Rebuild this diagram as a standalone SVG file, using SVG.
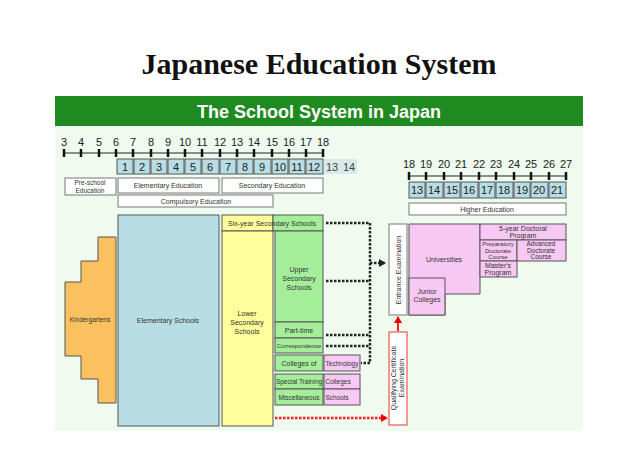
<svg xmlns="http://www.w3.org/2000/svg" width="638" height="452" viewBox="0 0 638 452">
<defs>
<style>
text{font-family:"Liberation Sans",Arial,sans-serif;fill:#333;font-size:7px;text-anchor:middle}
.g{fill:#b8dde4;stroke:#555}
.w{fill:#fff;stroke:#777}
.pk{fill:#f8c8f4;stroke:#555}
.gr{fill:#a4ee9a;stroke:#555}
.num{font-size:11px;fill:#222}
.dot{stroke:#222;stroke-width:2.5;stroke-dasharray:2.5 1.5;fill:none}
</style>
<marker id="ak" markerUnits="userSpaceOnUse" markerWidth="7" markerHeight="8" refX="6" refY="4" orient="auto"><path d="M0,0L7,4L0,8z" fill="#222"/></marker>
<marker id="ar" markerUnits="userSpaceOnUse" markerWidth="7" markerHeight="8" refX="6" refY="4" orient="auto"><path d="M0,0L7,4L0,8z" fill="#e00"/></marker>
</defs>
<rect width="638" height="452" fill="#fff"/>
<text x="319" y="74" style="font-family:'Liberation Serif',serif;font-size:30px;font-weight:bold;fill:#111">Japanese Education System</text>
<rect x="55" y="96" width="528" height="335" fill="#eefbee"/>
<rect x="55" y="96" width="528" height="30" fill="#1f8a1f"/>
<text x="319" y="118" style="font-size:18px;font-weight:bold;fill:#fff">The School System in Japan</text>
<g id="ages">
<text x="64" y="146" class="num">3</text><text x="81" y="146" class="num">4</text><text x="99" y="146" class="num">5</text><text x="116" y="146" class="num">6</text><text x="133" y="146" class="num">7</text><text x="151" y="146" class="num">8</text><text x="168" y="146" class="num">9</text><text x="185" y="146" class="num">10</text><text x="202" y="146" class="num">11</text><text x="220" y="146" class="num">12</text><text x="237" y="146" class="num">13</text><text x="254" y="146" class="num">14</text><text x="272" y="146" class="num">15</text><text x="289" y="146" class="num">16</text><text x="306" y="146" class="num">17</text><text x="323" y="146" class="num">18</text>
<path d="M64,153H323" stroke="#222" stroke-width="1"/>
<path d="M64,149v8M81,149v8M99,149v8M116,149v8M133,149v8M151,149v8M168,149v8M185,149v8M202,149v8M220,149v8M237,149v8M254,149v8M272,149v8M289,149v8M306,149v8M323,149v8" stroke="#111" stroke-width="2.5"/>
<text x="409" y="168" class="num">18</text><text x="426" y="168" class="num">19</text><text x="444" y="168" class="num">20</text><text x="461" y="168" class="num">21</text><text x="479" y="168" class="num">22</text><text x="496" y="168" class="num">23</text><text x="514" y="168" class="num">24</text><text x="531" y="168" class="num">25</text><text x="549" y="168" class="num">26</text><text x="566" y="168" class="num">27</text>
<path d="M409,176H566" stroke="#222"/>
<path d="M409,172v8M426,172v8M444,172v8M461,172v8M479,172v8M496,172v8M514,172v8M531,172v8M549,172v8M566,172v8" stroke="#111" stroke-width="2.5"/>
</g>
<g id="grades">
<rect x="117" y="159" width="16" height="15" class="g"/><text x="125" y="171" class="num">1</text>
<rect x="134" y="159" width="16" height="15" class="g"/><text x="142" y="171" class="num">2</text>
<rect x="151" y="159" width="16" height="15" class="g"/><text x="159" y="171" class="num">3</text>
<rect x="168" y="159" width="16" height="15" class="g"/><text x="176" y="171" class="num">4</text>
<rect x="185" y="159" width="16" height="15" class="g"/><text x="193" y="171" class="num">5</text>
<rect x="202" y="159" width="17" height="15" class="g"/><text x="210" y="171" class="num">6</text>
<rect x="220" y="159" width="16" height="15" class="g"/><text x="228" y="171" class="num">7</text>
<rect x="237" y="159" width="16" height="15" class="g"/><text x="245" y="171" class="num">8</text>
<rect x="254" y="159" width="17" height="15" class="g"/><text x="262" y="171" class="num">9</text>
<rect x="272" y="159" width="16" height="15" class="g"/><text x="280" y="171" class="num">10</text>
<rect x="289" y="159" width="16" height="15" class="g"/><text x="297" y="171" class="num">11</text>
<rect x="306" y="159" width="17" height="15" class="g"/><text x="314" y="171" class="num">12</text>
<rect x="324" y="159" width="17" height="15" fill="#d8eaea"/><text x="332" y="171" class="num" style="fill:#444">13</text>
<rect x="341" y="159" width="16" height="15" fill="#d8eaea"/><text x="349" y="171" class="num" style="fill:#444">14</text>
<rect x="409" y="182" width="16" height="16" class="g"/><text x="417" y="194" class="num">13</text>
<rect x="426" y="182" width="17" height="16" class="g"/><text x="434" y="194" class="num">14</text>
<rect x="444" y="182" width="16" height="16" class="g"/><text x="452" y="194" class="num">15</text>
<rect x="461" y="182" width="17" height="16" class="g"/><text x="469" y="194" class="num">16</text>
<rect x="479" y="182" width="16" height="16" class="g"/><text x="487" y="194" class="num">17</text>
<rect x="496" y="182" width="17" height="16" class="g"/><text x="504" y="194" class="num">18</text>
<rect x="514" y="182" width="16" height="16" class="g"/><text x="522" y="194" class="num">19</text>
<rect x="531" y="182" width="17" height="16" class="g"/><text x="539" y="194" class="num">20</text>
<rect x="549" y="182" width="17" height="16" class="g"/><text x="557" y="194" class="num">21</text>
</g>
<g id="stages">
<rect x="65" y="178" width="51" height="17" class="w"/><text x="90" y="185" style="font-size:6.5px">Pre-school</text><text x="90" y="193" style="font-size:6.5px">Education</text>
<rect x="118" y="178" width="101" height="15" class="w"/><text x="168" y="188">Elementary Education</text>
<rect x="222" y="178" width="101" height="15" class="w"/><text x="272" y="188">Secondary Education</text>
<rect x="118" y="195" width="155" height="12" class="w"/><text x="196" y="204">Compulsory Education</text>
<rect x="409" y="203" width="157" height="12" class="w"/><text x="487" y="212">Higher Education</text>
</g>
<g id="kindergartens"><path d="M98,237H116V403H98V379H81V356H65V282H81V261H98Z" fill="#fbc15e" stroke="#555"/><text x="90" y="322" style="font-size:6.5px">Kindergartens</text></g>
<g id="elementary"><rect x="118" y="215" width="101" height="211" class="g"/><text x="168" y="323">Elementary Schools</text></g>
<g id="sixyear"><rect x="222" y="215" width="51" height="16" fill="#fefe9a" stroke="#555"/><rect x="273" y="215" width="50" height="16" class="gr"/><text x="272" y="226">Six-year Secondary Schools</text></g>
<g id="lower"><rect x="222" y="231" width="51" height="195" fill="#fefe9a" stroke="#555"/><text x="247" y="316">Lower</text><text x="247" y="325">Secondary</text><text x="247" y="334">Schools</text></g>
<g id="upper"><rect x="275" y="231" width="48" height="91" class="gr"/><text x="299" y="272">Upper</text><text x="299" y="281">Secondary</text><text x="299" y="290">Schools</text></g>
<g id="parttime"><rect x="275" y="322" width="48" height="16" class="gr"/><text x="299" y="333">Part-time</text></g>
<g id="correspondence"><rect x="275" y="338" width="48" height="15" class="gr"/><text x="299" y="348" style="font-size:6px">Correspondence</text></g>
<g id="technology"><rect x="275" y="355" width="48" height="16" class="gr"/><text x="299" y="366">Colleges of</text><rect x="324" y="355" width="36" height="16" class="pk"/><text x="342" y="366" style="font-size:6.5px">Technology</text></g>
<g id="special"><rect x="275" y="374" width="48" height="15" class="gr"/><text x="299" y="384" style="font-size:6.5px">Special Training</text><rect x="324" y="374" width="36" height="15" class="pk"/><text x="338" y="384" style="font-size:6.5px">Colleges</text></g>
<g id="misc"><rect x="275" y="389" width="48" height="16" class="gr"/><text x="299" y="400" style="font-size:6.5px">Miscellaneous</text><rect x="324" y="389" width="36" height="16" class="pk"/><text x="337" y="400" style="font-size:6.5px">Schools</text></g>
<g id="entrance"><rect x="389" y="224" width="18" height="91" class="w"/><text transform="translate(401,270) rotate(-90)">Entrance Examination</text></g>
<g id="qualifying"><rect x="389" y="332" width="18" height="93" fill="#fff" stroke="#e33"/><text transform="translate(396,378) rotate(-90)">Qualifying Certificate</text><text transform="translate(404,378) rotate(-90)">Examination</text></g>
<g id="universities"><path d="M409,224H480V294H445V315H409Z" class="pk"/><text x="444" y="262">Universities</text></g>
<g id="junior"><rect x="409" y="278" width="36" height="37" class="pk"/><text x="427" y="294">Junior</text><text x="427" y="302">Colleges</text></g>
<g id="doctoral5"><rect x="480" y="224" width="86" height="16" class="pk"/><text x="523" y="231">5-year Doctoral</text><text x="523" y="238">Program</text></g>
<g id="preparatory"><rect x="480" y="240" width="37" height="21" class="pk"/><text x="498" y="246" style="font-size:6px">Preparatory</text><text x="498" y="253" style="font-size:6px">Doctorate</text><text x="498" y="259" style="font-size:6px">Course</text></g>
<g id="advanced"><rect x="517" y="240" width="49" height="21" class="pk"/><text x="541" y="246" style="font-size:6.5px">Advanced</text><text x="541" y="253" style="font-size:6.5px">Doctorate</text><text x="541" y="259" style="font-size:6.5px">Course</text></g>
<g id="masters"><rect x="480" y="261" width="37" height="16" class="pk"/><text x="498" y="268">Master's</text><text x="498" y="275">Program</text></g>
<g id="connectors">
<path class="dot" d="M326,223H370V363H361M326,281H370M326,335H370M326,346H370"/>
<path class="dot" d="M370,263H385" marker-end="url(#ak)"/>
<path d="M275,418H387" stroke="#e22" stroke-width="2.5" stroke-dasharray="2.5 1.5" marker-end="url(#ar)"/>
<path d="M398,331V317" stroke="#e22" stroke-width="2" marker-end="url(#ar)"/>
</g>
</svg>
